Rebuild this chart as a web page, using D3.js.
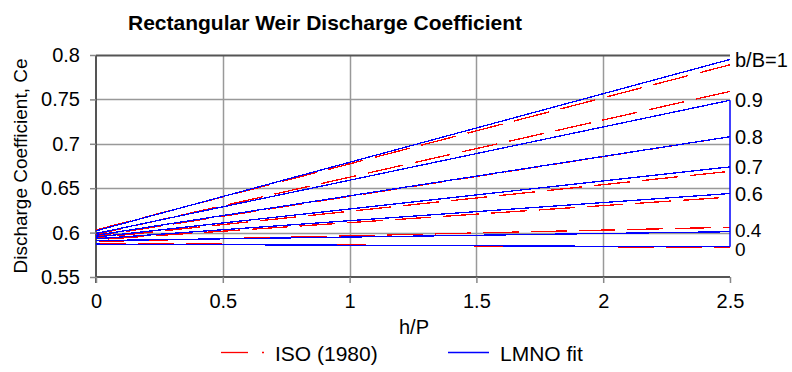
<!DOCTYPE html>
<html>
<head>
<meta charset="utf-8">
<script src="https://cdn.jsdelivr.net/npm/d3@7"></script>
<style>
  body { margin: 0; background: #fff; }
  text { font-family: "Liberation Sans", Arial, sans-serif; fill: #000; }
</style>
</head>
<body>
<svg id="chart" width="792" height="372"></svg>
<script>
// b/B ratios, one line per ratio (ISO + LMNO fit)
var ratioLabels = ["b/B=1", "0.9", "0.8", "0.7", "0.6", "0.4", "0"];
var hpRange = [0, 2.5];
// Ce at h/P = 0 and h/P = 2.5
var lmnoStart = [0.602, 0.599, 0.597, 0.595, 0.593, 0.591, 0.587];
var lmnoEnd   = [0.795, 0.749, 0.708, 0.674, 0.644, 0.601, 0.584];
var isoStart  = [0.603, 0.598, 0.596, 0.594, 0.592, 0.590, 0.588];
var isoEnd    = [0.789, 0.759, 0.708, 0.669, 0.640, 0.606, 0.583];
var xTicks = [0, 0.5, 1, 1.5, 2, 2.5];
var yTicks = [0.55, 0.6, 0.65, 0.7, 0.75, 0.8];

var margin = { top: 55, right: 62, bottom: 95, left: 96 },
  width = 792 - margin.left - margin.right,
  height = 372 - margin.top - margin.bottom;

var svg = d3.select("#chart");

var x = d3.scaleLinear().domain([0, 2.5]).range([0, width]);
var y = d3.scaleLinear().domain([0.55, 0.8]).range([height, 0]);

svg.append("text")
  .attr("x", 325).attr("y", 30)
  .attr("text-anchor", "middle")
  .style("font-size", "21px").style("font-weight", "bold")
  .text("Rectangular Weir Discharge Coefficient");

var g = svg.append("g")
  .attr("transform", "translate(" + margin.left + "," + margin.top + ")");

// grid
g.selectAll(".vgrid").data(xTicks.slice(1, -1)).enter()
  .append("line")
  .attr("x1", function (d) { return Math.round(x(d)) + 0.5; })
  .attr("x2", function (d) { return Math.round(x(d)) + 0.5; })
  .attr("y1", 0).attr("y2", height)
  .attr("stroke", "#999").attr("stroke-width", 1.5);
g.selectAll(".hgrid").data(yTicks.slice(1, -1)).enter()
  .append("line")
  .attr("x1", 0).attr("x2", width)
  .attr("y1", function (d) { return Math.round(y(d)) + 0.5; })
  .attr("y2", function (d) { return Math.round(y(d)) + 0.5; })
  .attr("stroke", "#999").attr("stroke-width", 1.5);

// frame: top, left, bottom
g.append("line").attr("x1", 0).attr("x2", width).attr("y1", 0.5).attr("y2", 0.5)
  .attr("stroke", "#555").attr("stroke-width", 2);
g.append("line").attr("x1", 0).attr("x2", width).attr("y1", height).attr("y2", height)
  .attr("stroke", "#555").attr("stroke-width", 2);
g.append("line").attr("x1", 0).attr("x2", 0).attr("y1", 0).attr("y2", height + 6)
  .attr("stroke", "#555").attr("stroke-width", 2);

// axes (labels + ticks)
var yAxis = g.append("g").call(d3.axisLeft(y).tickValues(yTicks).tickSize(6).tickPadding(10)
  .tickFormat(d3.format("")));
var xAxis = g.append("g").attr("transform", "translate(0," + height + ")")
  .call(d3.axisBottom(x).tickValues(xTicks).tickSize(6).tickPadding(11).tickFormat(d3.format("")));
[yAxis, xAxis].forEach(function (a) {
  a.select(".domain").remove();
  a.selectAll(".tick line").attr("stroke", "#888").attr("stroke-width", 1.5);
  a.selectAll(".tick text").style("font-size", "20px").attr("fill", "#000");
});

// lines
var line = d3.line()
  .x(function (d) { return x(d[0]); })
  .y(function (d) { return y(d[1]); });

var isoData = ratioLabels.map(function (r, i) {
  return [[hpRange[0], isoStart[i]], [hpRange[1], isoEnd[i]]];
});
var lmnoData = ratioLabels.map(function (r, i) {
  return [[hpRange[0], lmnoStart[i]], [hpRange[1], lmnoEnd[i]]];
});

g.selectAll(".iso").data(isoData).enter()
  .append("path")
  .attr("d", line)
  .attr("fill", "none")
  .attr("stroke", "#ff0000")
  .attr("stroke-width", 1.3)
  .attr("stroke-dasharray", "36,12")
  .attr("stroke-dashoffset", function (d, i) { return i * 9; })
  .attr("shape-rendering", "crispEdges");

g.selectAll(".lmno").data(lmnoData).enter()
  .append("path")
  .attr("d", line)
  .attr("fill", "none")
  .attr("stroke", "#0000ff")
  .attr("stroke-width", 1.3)
  .attr("shape-rendering", "crispEdges");

// right-edge connector of the fit series (0.9 down to 0)
g.append("line")
  .attr("x1", x(2.5)).attr("x2", x(2.5))
  .attr("y1", y(lmnoEnd[1])).attr("y2", y(lmnoEnd[lmnoEnd.length - 1]))
  .attr("stroke", "#0000ff").attr("stroke-width", 1.5);

// ratio labels on the right (last two nudged apart a little, they sit close)
var labelNudge = [0, 0, 0, 0, 0, -2, 2];
g.selectAll(".rlab").data(ratioLabels).enter()
  .append("text")
  .attr("x", width + 5)
  .attr("y", function (d, i) { return y(lmnoEnd[i]) + labelNudge[i]; })
  .attr("dy", "0.36em")
  .style("font-size", function (d, i) { return i >= 5 ? "19px" : "20px"; })
  .text(function (d) { return d; });

// axis titles
svg.append("text")
  .attr("x", 414).attr("y", 334)
  .attr("text-anchor", "middle")
  .style("font-size", "20px")
  .text("h/P");
svg.append("text")
  .attr("transform", "translate(27," + (margin.top + height / 2) + ") rotate(-90)")
  .attr("text-anchor", "middle")
  .style("font-size", "19px")
  .text("Discharge Coefficient, Ce");

// legend
var leg = svg.append("g");
leg.append("line").attr("x1", 221).attr("x2", 248).attr("y1", 352.5).attr("y2", 352.5)
  .attr("stroke", "#ff0000").attr("stroke-width", 1.3);
leg.append("line").attr("x1", 262).attr("x2", 264).attr("y1", 352.5).attr("y2", 352.5)
  .attr("stroke", "#ff0000").attr("stroke-width", 1.3);
leg.append("text").attr("x", 275).attr("y", 361).style("font-size", "21px").text("ISO (1980)");
leg.append("line").attr("x1", 448).attr("x2", 489).attr("y1", 352.5).attr("y2", 352.5)
  .attr("stroke", "#0000ff").attr("stroke-width", 1.3);
leg.append("text").attr("x", 500).attr("y", 361).style("font-size", "21px").text("LMNO fit");
</script>
</body>
</html>
